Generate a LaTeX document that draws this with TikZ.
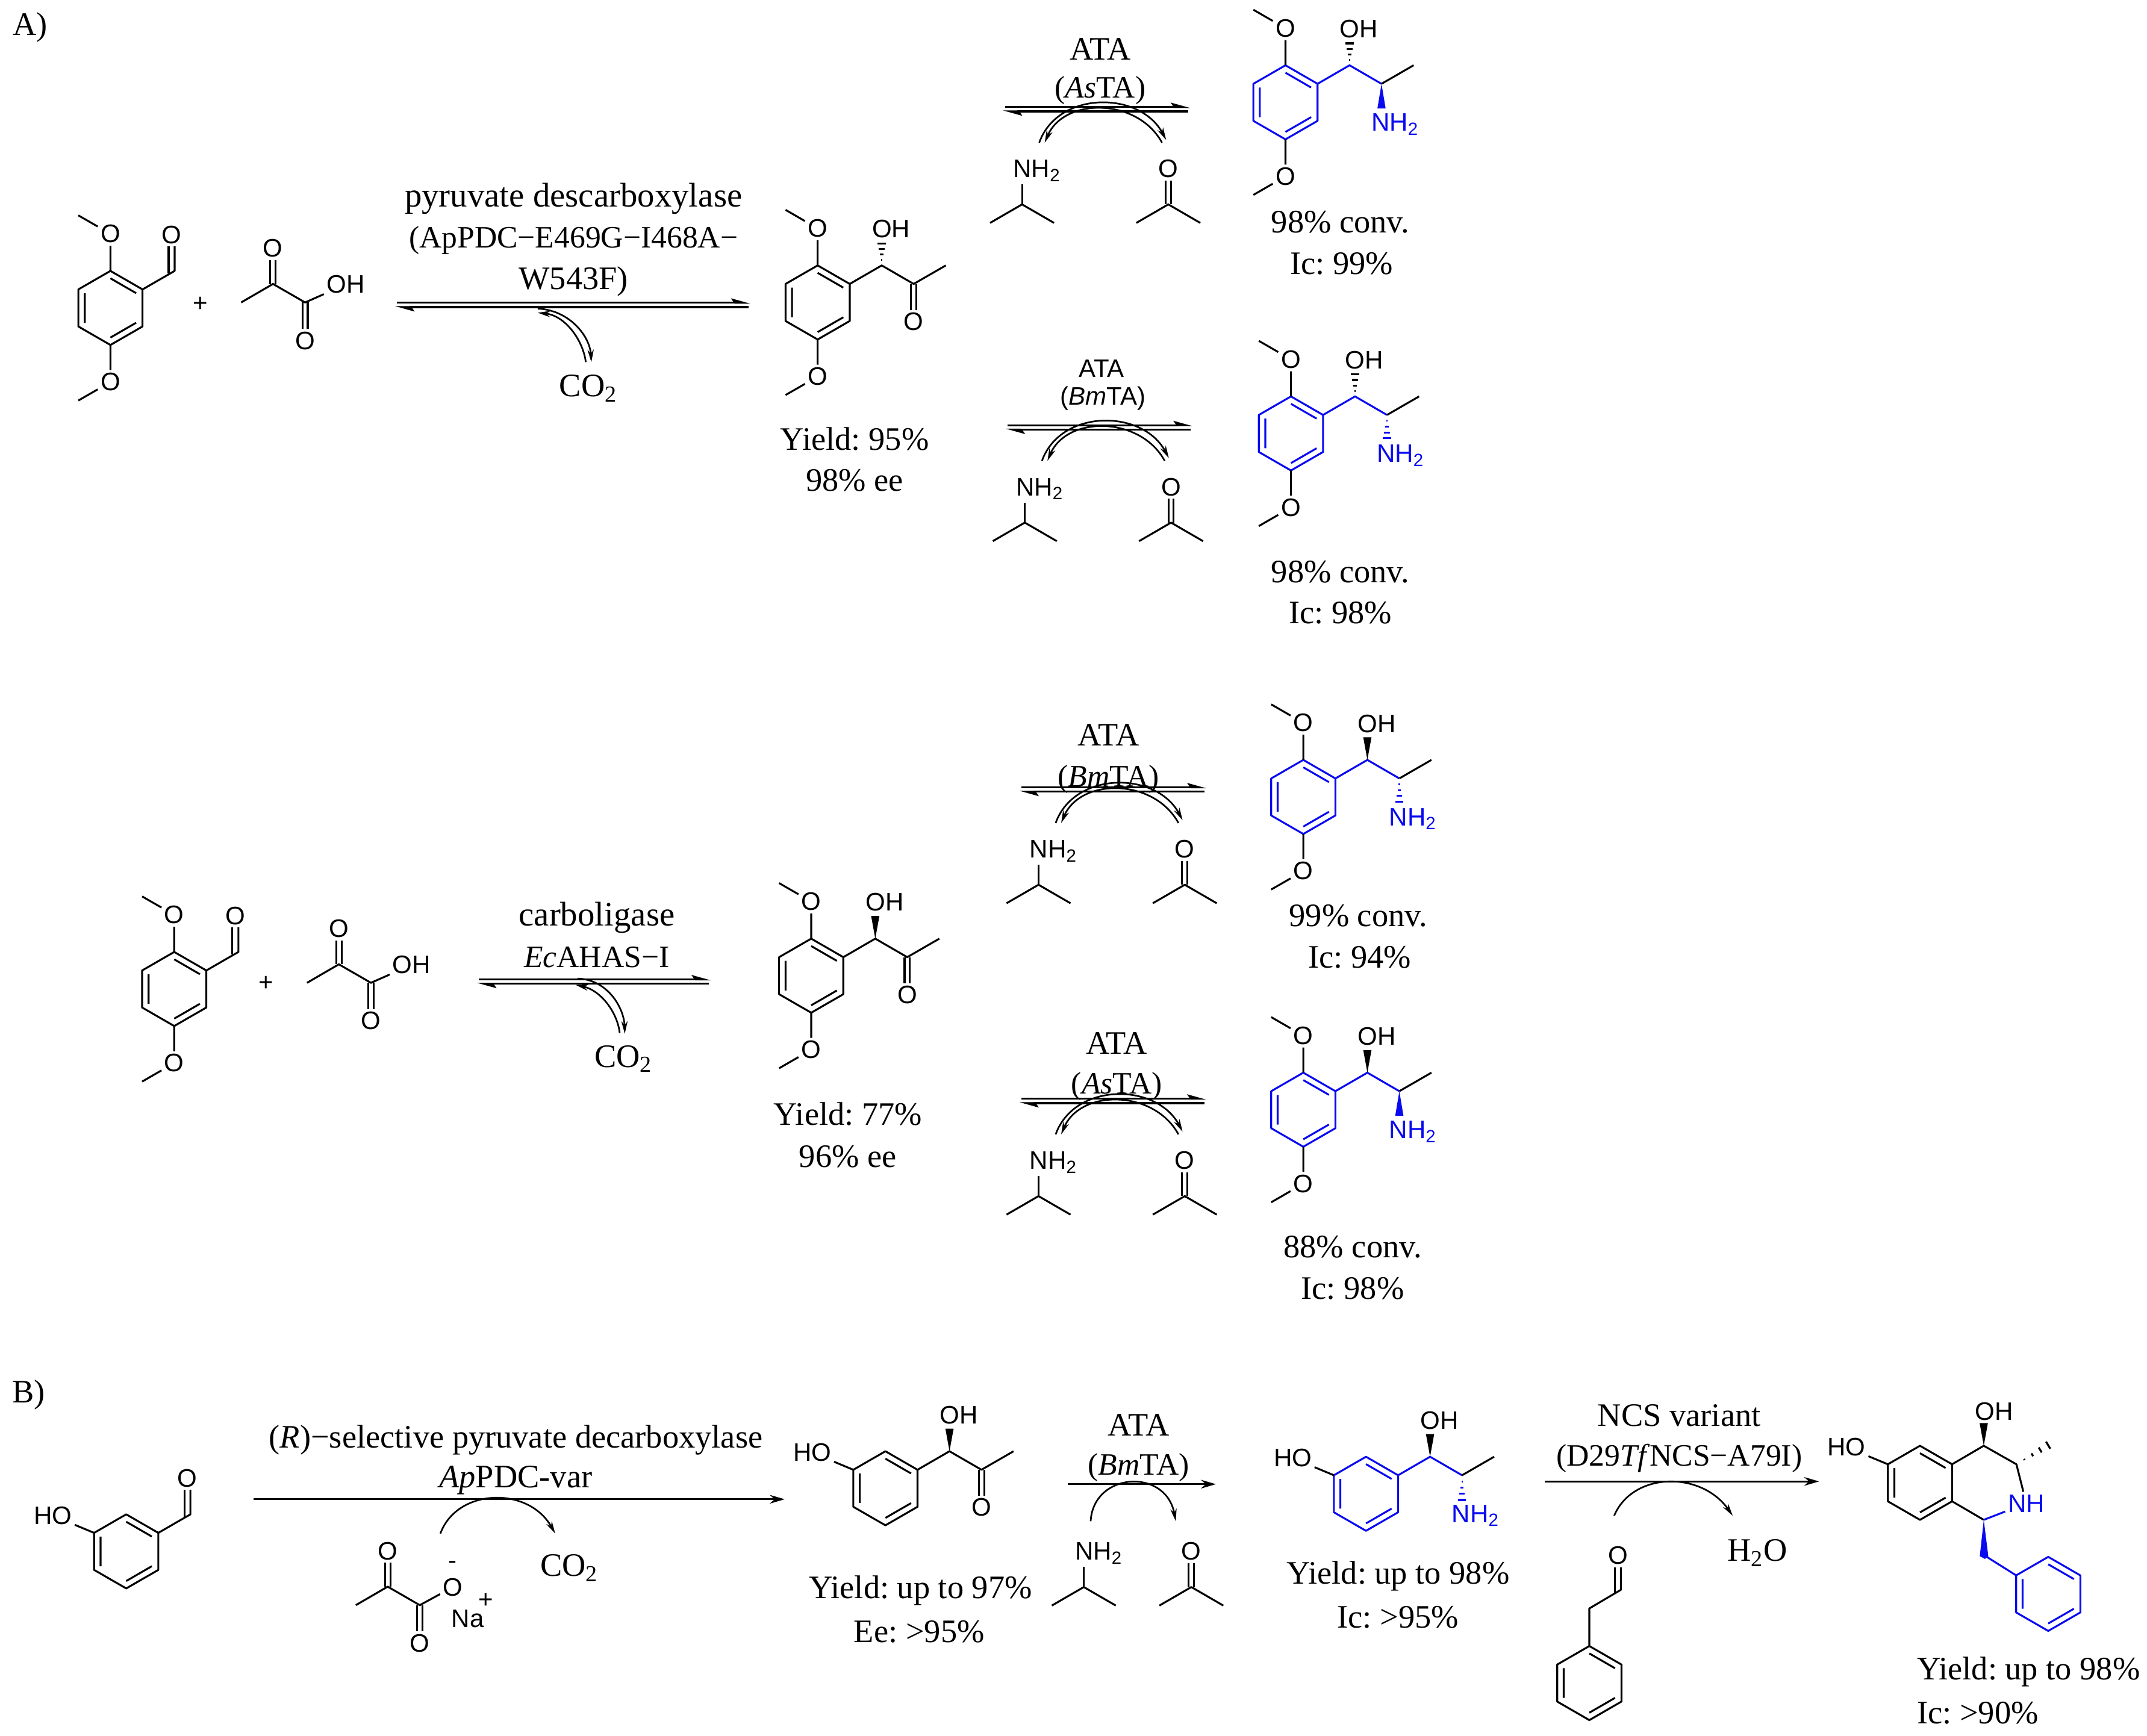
\documentclass[tikz,border=0pt]{standalone}
\usepackage{fontspec}
\setmainfont{Liberation Serif}
\setsansfont{Liberation Sans}
\usetikzlibrary{arrows.meta}
\definecolor{chemblue}{RGB}{10,10,240}
\frenchspacing

% benzene ring: name, x, y, colour
\newcommand{\ringat}[4]{%
\begin{scope}[shift={(#2,#3)}]
\coordinate (#1a) at (0,-27);
\coordinate (#1b) at (23.4,-13.5);
\coordinate (#1c) at (23.4,13.5);
\coordinate (#1d) at (0,27);
\coordinate (#1e) at (-23.4,13.5);
\coordinate (#1f) at (-23.4,-13.5);
\draw[bond,#4] (#1a) -- (#1b) -- (#1c) -- (#1d) -- (#1e) -- (#1f) -- cycle;
\draw[bond,#4] (0,-21.6) -- (18.7,-10.8) (18.7,10.8) -- (0,21.6) (-18.7,10.8) -- (-18.7,-10.8);
\end{scope}}
% ring with two OMe groups
\newcommand{\dimethoxy}[4]{%
\ringat{#1}{#2}{#3}{#4}
\begin{scope}[shift={(#2,#3)}]
\node[atom] (#1ot) at (0,-54) {O};
\node[atom] (#1ob) at (0,54) {O};
\coordinate (#1mt) at (-23.4,-67.5);
\coordinate (#1mb) at (-23.4,67.5);
\end{scope}
\draw[bond] (#1a) -- (#1ot) -- (#1mt);
\draw[bond] (#1d) -- (#1ob) -- (#1mb);}
% ring with a HO group
\newcommand{\phenol}[4]{%
\ringat{#1}{#2}{#3}{#4}
\begin{scope}[shift={(#2,#3)}]
\node[atom] (#1ho) at (-53.4,-26) {HO};
\end{scope}
\draw[bond] (#1f) -- (#1ho);}
% aldehyde on the ring
\newcommand{\formyl}[3]{%
\begin{scope}[shift={(#2,#3)}]
\coordinate (#1g) at (46.8,-27);
\coordinate (#1gg) at (42.4,-25);
\node[atom] (#1ox) at (44.6,-53.5) {O};
\end{scope}
\draw[bond] (#1b) -- (#1g) -- (#1g |- #1ox.south);
\draw[bond] (#1gg) -- (#1gg |- #1ox.south);}
% hydroxy ketone chain
\newcommand{\ketchain}[3]{%
\begin{scope}[shift={(#2,#3)}]
\coordinate (#1g) at (46.7,-27);
\coordinate (#1h) at (70,-13.5);
\coordinate (#1i) at (93.4,-27);
\node[atom] (#1oh) at (53.5,-53.5) {OH};
\node[atom] (#1ok) at (70,14) {O};
\end{scope}
\draw[bond] (#1b) -- (#1g) -- (#1h) -- (#1i);
\draw[bond] ([xshift=-1.1pt]#1h) -- ([xshift=-1.1pt]#1h |- #1ok.north);
\draw[bond] ([xshift=1.1pt]#1h) -- ([xshift=1.1pt]#1h |- #1ok.north);}
% amino alcohol chain
\newcommand{\aminochain}[3]{%
\begin{scope}[shift={(#2,#3)}]
\coordinate (#1g) at (46.7,-27);
\coordinate (#1h) at (70,-13.5);
\coordinate (#1i) at (93.4,-27);
\node[atom] (#1oh) at (53.5,-53.5) {OH};
\node[atom,chemblue] (#1nh) at (80,16) {NH\textsubscript{2}};
\end{scope}
\draw[bond,chemblue] (#1b) -- (#1g) -- (#1h);
\draw[bond] (#1h) -- (#1i);}
% stereo bonds: colour, tip, length
\newcommand{\wedgebond}[3]{\fill[#1] (#2) -- ++(-3,#3) -- ++(6,0) -- cycle;}
\newcommand{\hashbond}[3]{%
\begin{scope}[shift={(#2)}]
\draw[#1,line width=0.8pt] (-0.5,0.25*#3) -- (0.5,0.25*#3);
\draw[#1,line width=0.8pt] (-1.2,0.5*#3) -- (1.2,0.5*#3);
\draw[#1,line width=0.8pt] (-2.1,0.75*#3) -- (2.1,0.75*#3);
\draw[#1,line width=0.8pt] (-3,#3) -- (3,#3);
\end{scope}}
% pyruvate: name, x, y, x of last label, last label
\newcommand{\pyruvoyl}[5]{%
\begin{scope}[shift={(#2,#3)}]
\coordinate (#1c) at (0,0);
\coordinate (#1m) at (-23.2,13.5);
\coordinate (#1d) at (23.4,13.5);
\node[atom] (#1ot) at (0,-26) {O};
\node[atom] (#1ob) at (23.4,41.3) {O};
\node[atom] (#1ol) at (#4,0.4) {#5};
\end{scope}
\draw[bond] (#1m) -- (#1c) -- (#1d) -- (#1ol);
\draw[bond] ([xshift=-1.1pt]#1c) -- ([xshift=-1.1pt]#1c |- #1ot.south);
\draw[bond] ([xshift=1.1pt]#1c) -- ([xshift=1.1pt]#1c |- #1ot.south);
\draw[bond] ([xshift=-1.1pt]#1d) -- ([xshift=-1.1pt]#1d |- #1ob.north);
\draw[bond] ([xshift=1.1pt]#1d) -- ([xshift=1.1pt]#1d |- #1ob.north);}
% isopropylamine and acetone
\newcommand{\amine}[3]{%
\begin{scope}[shift={(#2,#3)}]
\coordinate (#1c) at (0,0);
\coordinate (#1l) at (-23.3,13.5);
\coordinate (#1r) at (23.3,13.5);
\node[atom] (#1n) at (11,-24.5) {NH\textsubscript{2}};
\end{scope}
\draw[bond] (#1l) -- (#1c) -- (#1r);
\draw[bond] (#1c) -- (#1c |- #1n.south);}
\newcommand{\acetone}[3]{%
\begin{scope}[shift={(#2,#3)}]
\coordinate (#1c) at (0,0);
\coordinate (#1l) at (-23.3,13.5);
\coordinate (#1r) at (23.3,13.5);
\node[atom] (#1o) at (0,-26) {O};
\end{scope}
\draw[bond] (#1l) -- (#1c) -- (#1r);
\draw[bond] ([xshift=-1.1pt]#1c) -- ([xshift=-1.1pt]#1c |- #1o.south);
\draw[bond] ([xshift=1.1pt]#1c) -- ([xshift=1.1pt]#1c |- #1o.south);}
% equilibrium arrows: name, x start, x end, y
\newcommand{\eqarrows}[4]{%
\coordinate (#1fs) at (#2+1.5,#4);
\coordinate (#1fe) at (#3+1.5,#4);
\coordinate (#1bs) at (#3,#4+3.2);
\coordinate (#1be) at (#2,#4+3.2);
\draw[halfarrow] (#1fs) -- (#1fe);
\draw[halfarrow] (#1bs) -- (#1be);}
% transaminase step below the labels
\newcommand{\atastep}[3]{%
\eqarrows{#1}{#2}{#2+135}{#3}
\begin{scope}[shift={(#2,#3)}]
\coordinate (#1ua) at (26.5,26);
\coordinate (#1ub) at (119,24);
\coordinate (#1va) at (116,26);
\coordinate (#1vb) at (30.5,26);
\end{scope}
\draw[curvearrow] (#1ua) .. controls +(13.5,-38) and +(-19,-36) .. (#1ub);
\draw[curvearrow] (#1va) .. controls +(-18,-33) and +(14,-33) .. (#1vb);
\amine{#1am}{#2+14}{#3+71}
\acetone{#1ac}{#2+120.6}{#3+71}}

\begin{document}
\begin{tikzpicture}[x=0.02cm,y=-0.02cm]
\tikzstyle{bond}=[line width=0.78pt, line join=round]
\tikzstyle{every node}=[font=\fontsize{13.6}{16}\selectfont]
\tikzstyle{widetxt}=[font=\fontsize{14.2}{16}\selectfont]
\tikzstyle{narrowtxt}=[font=\fontsize{12.9}{16}\selectfont]
\tikzstyle{atom}=[font=\sffamily\fontsize{10.5}{12}\selectfont, inner sep=1pt]
\tikzstyle{sanstxt}=[font=\sffamily\fontsize{10.5}{12}\selectfont]
\tikzstyle{halfarrow}=[line width=0.78pt, -{Stealth[harpoon,length=6.6pt,width=3.6pt,inset=1.2pt]}]
\tikzstyle{curvearrow}=[line width=0.68pt, -{Stealth[length=5.2pt,width=2.6pt]}]
\tikzstyle{plainarrow}=[line width=0.78pt, -{Stealth[length=6.2pt,width=3.6pt]}]
\useasboundingbox (0,0) rectangle (1565,1265.6);

\node (labA) at (22,20) {A)};
\node (labB) at (21,1017) {B)};

% first route
\dimethoxy{ald1}{80.5}{224.5}{black}
\formyl{ald1}{80.5}{224.5}
\node[atom] (plus1) at (146,222) {+};
\pyruvoyl{pyr1}{199}{207}{53}{OH}
\node[widetxt] (enz1a) at (418,145) {pyruvate descarboxylase};
\node[narrowtxt] (enz1b) at (418,175) {(ApPDC−E469G−I468A−};
\node (enz1c) at (418,205) {W543F)};
\eqarrows{eq1}{288}{545.5}{220.7}
\coordinate (co1a) at (392,225);
\coordinate (co1b) at (431,264);
\coordinate (co1c) at (427,264);
\coordinate (co1d) at (392,228);
\draw[curvearrow] (co1a) .. controls (415,226) and (430,245) .. (co1b);
\draw[curvearrow] (co1c) .. controls (425,248) and (412,230) .. (co1d);
\node (co1) at (429,283) {CO\textsubscript{2}};
\dimethoxy{ket1}{596}{220.5}{black}
\ketchain{ket1}{596}{220.5}
\hashbond{black}{ket1g}{-16}
\node (res1a) at (623,320) {Yield: 95\%};
\node (res1b) at (623,350) {98\% ee};

\node (ata1a) at (802,36) {ATA};
\node[narrowtxt] (ata1b) at (802,66) {(\textit{As}TA)};
\atastep{st1}{731}{78}
\dimethoxy{pa1}{937}{74.6}{chemblue}
\aminochain{pa1}{937}{74.6}
\hashbond{black}{pa1g}{-16}
\wedgebond{chemblue}{pa1h}{18}
\node (con1a) at (977,162) {98\% conv.};
\node (con1b) at (978,192) {Ic: 99\%};

\node[sanstxt] (ata2a) at (803,268.5) {ATA};
\node[sanstxt] (ata2b) at (804,290.5) {(\textit{Bm}TA)};
\atastep{st2}{733}{310}
\dimethoxy{pa2}{941}{316}{chemblue}
\aminochain{pa2}{941}{316}
\hashbond{black}{pa2g}{-16}
\hashbond{chemblue}{pa2h}{17}
\node (con2a) at (977,417) {98\% conv.};
\node (con2b) at (977,447) {Ic: 98\%};

% second route
\dimethoxy{ald2}{127}{721}{black}
\formyl{ald2}{127}{721}
\node[atom] (plus2) at (194,717) {+};
\pyruvoyl{pyr2}{247}{703}{53}{OH}
\node[widetxt] (enz2a) at (435,669) {carboligase};
\node[narrowtxt] (enz2b) at (435,698) {\textit{Ec}AHAS−I};
\eqarrows{eq2}{347.7}{516.7}{714}
\coordinate (co2a) at (421,713.4);
\coordinate (co2b) at (455.4,753.6);
\coordinate (co2c) at (451.7,753);
\coordinate (co2d) at (419.6,718);
\draw[curvearrow] (co2a) .. controls (443,714) and (455,735) .. (co2b);
\draw[curvearrow] (co2c) .. controls (450,738) and (438,722) .. (co2d);
\node (co2) at (454.5,772) {CO\textsubscript{2}};
\dimethoxy{ket2}{591.3}{711.3}{black}
\ketchain{ket2}{591.3}{711.3}
\wedgebond{black}{ket2g}{-16.5}
\node (res2a) at (618,812) {Yield: 77\%};
\node (res2b) at (618,843) {96\% ee};

\node (ata3a) at (808,536) {ATA};
\node[narrowtxt] (ata3b) at (808,568) {(\textit{Bm}TA)};
\atastep{st3}{743}{574}
\dimethoxy{pa3}{950}{581}{chemblue}
\aminochain{pa3}{950}{581}
\wedgebond{black}{pa3g}{-16.5}
\hashbond{chemblue}{pa3h}{17}
\node (con3a) at (990,667.5) {99\% conv.};
\node (con3b) at (991,698) {Ic: 94\%};

\node (ata4a) at (814,760.5) {ATA};
\node[narrowtxt] (ata4b) at (814,792) {(\textit{As}TA)};
\atastep{st4}{743}{801}
\dimethoxy{pa4}{950}{809}{chemblue}
\aminochain{pa4}{950}{809}
\wedgebond{black}{pa4g}{-16.5}
\wedgebond{chemblue}{pa4h}{18}
\node (con4a) at (986,909) {88\% conv.};
\node (con4b) at (986,939.5) {Ic: 98\%};

% part B
\phenol{ald3}{92}{1131}{black}
\formyl{ald3}{92}{1131}
\node (enz3a) at (376,1050) {(\textit{R})−selective pyruvate decarboxylase};
\node (enz3b) at (376,1079) {\textit{Ap}PDC-var};
\coordinate (pb1a) at (185,1093);
\coordinate (pb1b) at (572,1093);
\draw[plainarrow] (pb1a) -- (pb1b);
\coordinate (co3a) at (321,1118);
\coordinate (co3b) at (404.7,1118);
\draw[curvearrow] (co3a) .. controls (333,1085) and (385,1083) .. (co3b);
\pyruvoyl{pyr3}{282.6}{1156.7}{47.4}{O}
\node[atom] (pyr3m) at (330,1141) {-};
\node[atom,inner sep=0pt] (na) at (341,1180) {Na};
\node[atom,inner sep=0pt] (nap) at (354,1167) {+};
\node (co3) at (415,1143) {CO\textsubscript{2}};
\phenol{ket3}{645.4}{1085}{black}
\ketchain{ket3}{645.4}{1085}
\wedgebond{black}{ket3g}{-16.5}
\node (res3a) at (671,1159.5) {Yield: up to 97\%};
\node (res3b) at (670,1189.5) {Ee: >95\%};

\node (ata5a) at (830,1039) {ATA};
\node[narrowtxt] (ata5b) at (830,1070) {(\textit{Bm}TA)};
\coordinate (pb2a) at (778.4,1082);
\coordinate (pb2b) at (886.3,1082);
\draw[plainarrow] (pb2a) -- (pb2b);
\coordinate (oxa) at (795,1109);
\coordinate (oxb) at (857,1109);
\draw[curvearrow] (oxa) .. controls (797,1073) and (850,1070) .. (oxb);
\amine{am5}{790}{1157}
\acetone{ac5}{868.4}{1157}
\phenol{pa5}{995.7}{1089}{chemblue}
\aminochain{pa5}{995.7}{1089}
\wedgebond{black}{pa5g}{-16.5}
\hashbond{chemblue}{pa5h}{18}
\node (res5a) at (1019,1149) {Yield: up to 98\%};
\node (res5b) at (1019,1179) {Ic: >95\%};

\node (ncsa) at (1224,1032) {NCS variant};
\node[narrowtxt] (ncsb) at (1224,1063) {(D29\textit{Tf}NCS−A79I)};
\coordinate (pb3a) at (1126,1080);
\coordinate (pb3b) at (1326,1080);
\draw[plainarrow] (pb3a) -- (pb3b);
\coordinate (wata) at (1176.6,1105);
\coordinate (watb) at (1263,1105);
\draw[curvearrow] (wata) .. controls (1190,1073) and (1240,1072) .. (watb);
\node (h2o) at (1281,1132) {H\textsubscript{2}O};

\ringat{pal}{1158.5}{1227}{black}
\coordinate (palc) at (1158.5,1172.6);
\coordinate (pald) at (1181.5,1159);
\coordinate (pale) at (1177,1161);
\node[atom] (palo) at (1179.5,1134) {O};
\draw[bond] (pala) -- (palc) -- (pald) -- (pald |- palo.south);
\draw[bond] (pale) -- (pale |- palo.south);

\ringat{iq}{1399.5}{1081}{black}
\coordinate (iqd) at (1446,1054);
\coordinate (iqe) at (1469.8,1067.5);
\coordinate (iqg) at (1446,1108);
\coordinate (iqh) at (1447.4,1134.5);
\node[atom] (iqoh) at (1453.5,1029) {OH};
\node[atom] (iqho) at (1346,1055) {HO};
\node[atom,chemblue] (iqnh) at (1477,1096) {NH};
\draw[bond] (iqf) -- (iqho);
\draw[bond] (iqb) -- (iqd) -- (iqe) -- (iqnh);
\draw[bond] (iqc) -- (iqg);
\draw[bond,chemblue] (iqg) -- (iqnh);
\wedgebond{black}{iqd}{-16.5}
\begin{scope}[shift={(iqe)},rotate=-59]
\hashbond{black}{0,0}{-27}
\end{scope}
\fill[chemblue] (iqg) -- ++(-2.9,26.5) -- ++(3.8,2) -- ++(2.4,-2) -- cycle;
\ringat{bn}{1493}{1162}{chemblue}
\draw[bond,chemblue] (iqh) -- (bnf);
\node (res6a) at (1397,1219) [anchor=west,inner sep=0pt] {Yield: up to 98\%};
\node (res6b) at (1397,1249) [anchor=west,inner sep=0pt] {Ic: >90\%};
\end{tikzpicture}
\end{document}
